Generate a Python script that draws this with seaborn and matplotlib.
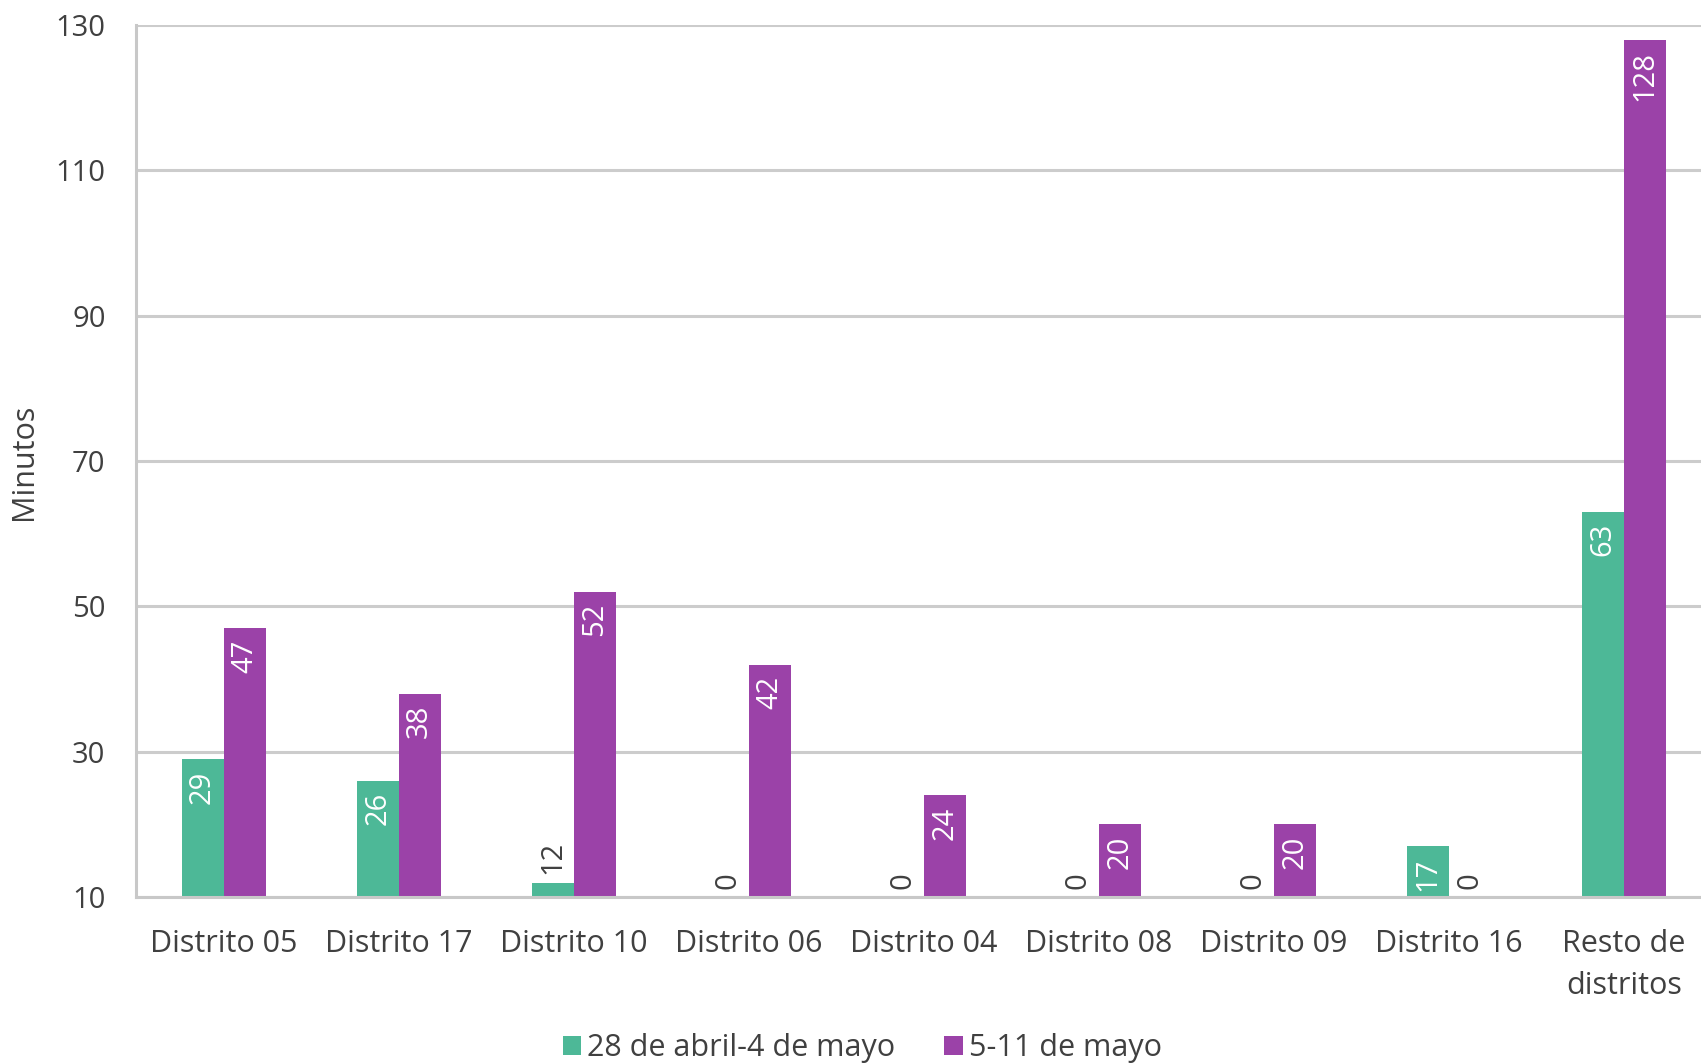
import pandas as pd
import seaborn as sns
import matplotlib.pyplot as plt

# datos
distritos = ["Distrito 05", "Distrito 17", "Distrito 10", "Distrito 06", "Distrito 04",
             "Distrito 08", "Distrito 09", "Distrito 16", "Resto de\ndistritos"]
semana_1 = [29, 26, 12, 0, 0, 0, 0, 17, 63]
semana_2 = [47, 38, 52, 42, 24, 20, 20, 0, 128]
periodos = ["28 de abril-4 de mayo", "5-11 de mayo"]
colores = ["#4DB897", "#9B42A8"]

df = pd.DataFrame({
    "distrito": distritos * 2,
    "minutos": semana_1 + semana_2,
    "periodo": [periodos[0]] * len(distritos) + [periodos[1]] * len(distritos),
})

sns.set_style("white")
plt.rcParams["font.family"] = ["Open Sans", "DejaVu Sans"]
texto = "#404040"

fig = plt.figure(figsize=(17.01, 10.63), dpi=100)
ax = fig.add_axes([0.08, 0.156, 0.92, 0.8205])

sns.barplot(data=df, x="distrito", y="minutos", hue="periodo", palette=colores,
            width=0.48, saturation=1, linewidth=0, ax=ax, legend=True)

ax.set_ylim(10, 130)
ax.set_xlim(-0.5, 8.44)
ax.set_yticks(range(10, 131, 20))
ax.yaxis.grid(True, color="#CCCCCC", linewidth=2.2)
ax.set_axisbelow(True)
ax.tick_params(axis="y", length=0, pad=22, labelsize=21, labelcolor=texto)
ax.tick_params(axis="x", length=0, pad=23, labelsize=22, labelcolor=texto)
for t in ax.get_xticklabels():
    t.set_linespacing(1.5)
ax.set_xlabel("")
ax.set_ylabel("")
for lado in ["top", "right"]:
    ax.spines[lado].set_visible(False)
for lado in ["left", "bottom"]:
    ax.spines[lado].set_color("#C8C8C8")
    ax.spines[lado].set_linewidth(2.2)

# etiquetas de valores
ymin = ax.get_ylim()[0]
for cont in ax.containers:
    for barra in cont:
        v = barra.get_height()
        x = barra.get_x() + barra.get_width() / 2
        if v - ymin >= 5:
            ax.annotate(f"{v:.0f}", (x, v), xytext=(0, -8), textcoords="offset points",
                        rotation=90, ha="center", va="top", color="white", fontsize=21)
        else:
            ax.annotate(f"{v:.0f}", (x, max(v, ymin)), xytext=(0, 6), textcoords="offset points",
                        rotation=90, ha="center", va="bottom", color=texto, fontsize=21)

fig.text(0.014, 0.566, "Minutos", rotation=90, ha="center", va="center",
         fontsize=22, color=texto)

handles, labels = ax.get_legend_handles_labels()
ax.get_legend().remove()
fig.legend(handles, labels, loc="lower center", bbox_to_anchor=(0.507, -0.026), ncol=2,
           frameon=False, fontsize=22, handlelength=0.6, handleheight=0.6,
           handletextpad=0.2, columnspacing=1.6, labelcolor=texto)

fig.savefig("out.png", dpi=100)
